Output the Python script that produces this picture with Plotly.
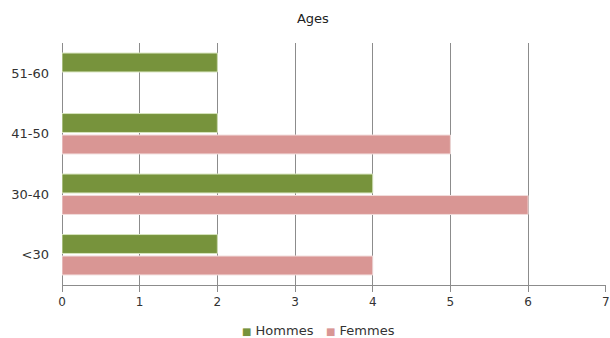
import plotly.graph_objects as go

# Age brackets (bottom to top) and head counts per gender
categories = ["<30", "30-40", "41-50", "51-60"]
hommes = [2, 4, 2, 2]
femmes = [4, 6, 5, 0]
x_ticks = [0, 1, 2, 3, 4, 5, 6, 7]
series_names = ["Hommes", "Femmes"]

GREEN = "#77933C"
PINK = "#D99694"
GRID = "#8C8C8C"
TEXT = "#333333"
FONT = "DejaVu Sans"


def edge_widths(values):
    # thin light outline on real bars only
    return [1 if v > 0 else 0 for v in values]


fig = go.Figure()
# Femmes first so it sits lower within each group
fig.add_trace(go.Bar(
    y=categories, x=femmes, orientation="h", name=series_names[1],
    marker=dict(color=PINK, line=dict(color="#F2DCDB", width=edge_widths(femmes))),
    showlegend=False,
))
fig.add_trace(go.Bar(
    y=categories, x=hommes, orientation="h", name=series_names[0],
    marker=dict(color=GREEN, line=dict(color="#D7E4BD", width=edge_widths(hommes))),
    showlegend=False,
))

# Compact legend below the axis: small coloured square + series name
legend_items = [(series_names[0], GREEN, 0.327), (series_names[1], PINK, 0.482)]
for name, color, xpos in legend_items:
    fig.add_annotation(
        xref="paper", yref="paper", x=xpos, y=-0.19, xanchor="left", yanchor="middle",
        text=f"<span style='color:{color};font-size:10px'>■</span> {name}", showarrow=False,
        font=dict(family=FONT, size=13, color=TEXT),
    )

fig.update_layout(
    width=610, height=338,
    margin=dict(l=62, r=4, t=43, b=53, autoexpand=False),
    paper_bgcolor="white", plot_bgcolor="white",
    barmode="group", bargap=0.29, bargroupgap=0.12,
    font=dict(family=FONT, size=13, color=TEXT),
    title=dict(text="Ages", x=0.513, xanchor="center", y=0.945, yanchor="middle",
               font=dict(family=FONT, size=13, color="#222222")),
    showlegend=False,
)
fig.update_xaxes(
    range=[0, 7.003], tickvals=x_ticks, showgrid=True, gridcolor=GRID, gridwidth=1,
    zeroline=True, zerolinecolor=GRID, zerolinewidth=1,
    showline=True, linecolor=GRID, linewidth=1,
    ticks="outside", ticklen=6, tickcolor=GRID, ticklabelstandoff=0,
    ticklabeloverflow="allow", automargin=False,
    tickfont=dict(family=FONT, size=12, color=TEXT),
    fixedrange=True,
)
fig.update_yaxes(
    categoryorder="array", categoryarray=categories,
    showgrid=False, showline=False, ticks="", ticklabelstandoff=12,
    automargin=False,
    tickfont=dict(family=FONT, size=13, color=TEXT),
    fixedrange=True,
)

fig.write_html("out.html")
